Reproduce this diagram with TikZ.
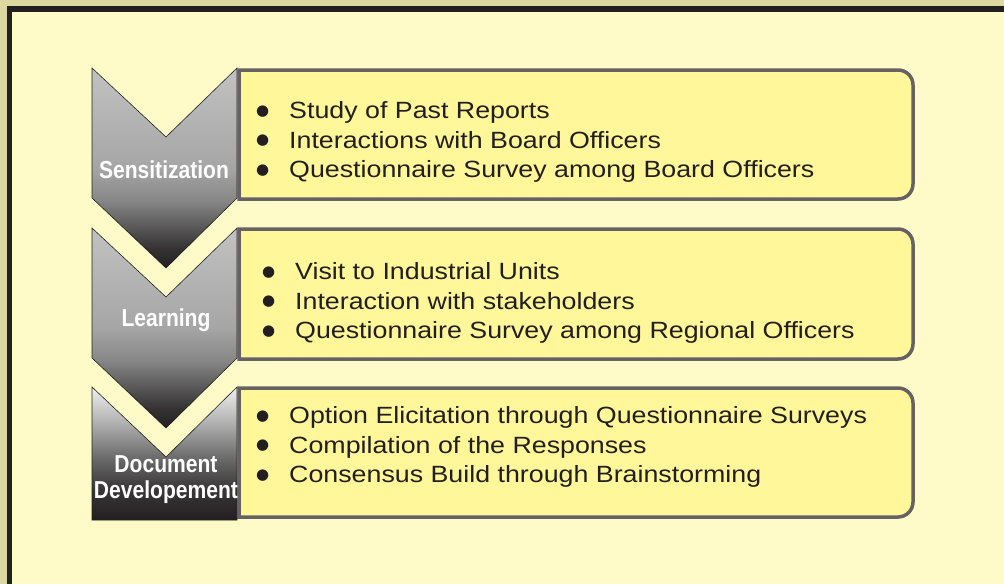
\documentclass[tikz,border=0pt]{standalone}
\usepackage{fontspec}
\setmainfont{Liberation Sans}
\newfontfamily\listfont[FakeStretch=1.14]{Liberation Sans}
\newfontfamily\stagefont[FakeStretch=0.86]{Liberation Sans}
\newfontfamily\dotfont{DejaVu Sans}
\definecolor{paper}{HTML}{FFFBC9}
\definecolor{olive}{HTML}{DCD89F}
\definecolor{ink}{HTML}{231F20}
\definecolor{panelfill}{HTML}{FFF799}
\definecolor{paneledge}{HTML}{666264}

% grey to black, dark only near the tip
\pgfdeclareverticalshading{stepshade}{100bp}{color(0bp)=(ink); color(25bp)=(ink);
  color(30bp)=(ink!80!gray); color(42bp)=(black!47); color(50bp)=(black!35);
  color(75bp)=(black!24); color(100bp)=(black!24)}
\pgfdeclareverticalshading{lastshade}{100bp}{color(0bp)=(ink); color(25bp)=(ink);
  color(37bp)=(ink!75!gray); color(50bp)=(black!55); color(62bp)=(black!30);
  color(75bp)=(black!6); color(100bp)=(black!6)}

\tikzset{
  stage/.style={draw=ink,line width=0.6pt,shading=stepshade},
  stagelast/.style={stage,shading=lastshade},
  panel/.style={draw=paneledge,fill=panelfill,line width=3.5pt},
  stagelabel/.style={text=white,font=\stagefont\bfseries\fontsize{24.5}{26}\selectfont,align=center,inner sep=0pt},
  itemlist/.style={anchor=west,align=left,inner sep=0pt,text=ink,font=\listfont\fontsize{23.5}{29.5}\selectfont}
}
\newcommand\itm{\makebox[33pt][l]{\raisebox{3.5pt}{\dotfont\fontsize{15}{0}\selectfont ●}}}

\begin{document}
\begin{tikzpicture}[x=1pt,y=-1pt]
 \useasboundingbox (0,0) rectangle (1004,584);
 % page and frame
 \fill[olive] (0,0) rectangle (1004,584);
 \fill[ink] (7,6) rectangle (1004,584);
 \fill[paper] (12,12) rectangle (1004,584);

 % text panels, round on the right only
 \draw[panel] (576,70) [rounded corners=15pt] -- (913,70) -- (913,199) -- (576,199)
   [sharp corners] -- (239,199) -- (239,70) -- cycle;
 \draw[panel] (576,229) [rounded corners=15pt] -- (913,229) -- (913,359) -- (576,359)
   [sharp corners] -- (239,359) -- (239,229) -- cycle;
 \draw[panel] (576,388) [rounded corners=15pt] -- (913,388) -- (913,517) -- (576,517)
   [sharp corners] -- (239,517) -- (239,388) -- cycle;

 % chevrons
 \draw[stage] (92,68) -- (166,137) -- (237,68) -- (237,198) -- (166,268) -- (92,198) -- cycle;
 \draw[stage] (92,228) -- (166,297) -- (237,228) -- (237,358) -- (166,428) -- (92,358) -- cycle;
 \draw[stagelast] (92,387) -- (166,457) -- (237,387) -- (237,520) -- (92,520) -- cycle;

 \node[stagelabel] (sens) at (164,170) {Sensitization};
 \node[stagelabel] (learn) at (166,320) {Learning};
 \node[stagelabel] (docdev) at (166,480) {Document\\Developement};

 \node[itemlist] (senslist) at (256,142) {\itm Study of Past Reports\\
   \itm Interactions with Board Officers\\
   \itm Questionnaire Survey among Board Officers};
 \node[itemlist] (learnlist) at (262,303) {\itm Visit to Industrial Units\\
   \itm Interaction with stakeholders\\
   \itm Questionnaire Survey among Regional Officers};
 \node[itemlist] (doclist) at (256,447) {\itm Option Elicitation through Questionnaire Surveys\\
   \itm Compilation of the Responses\\
   \itm Consensus Build through Brainstorming};
\end{tikzpicture}
\end{document}
